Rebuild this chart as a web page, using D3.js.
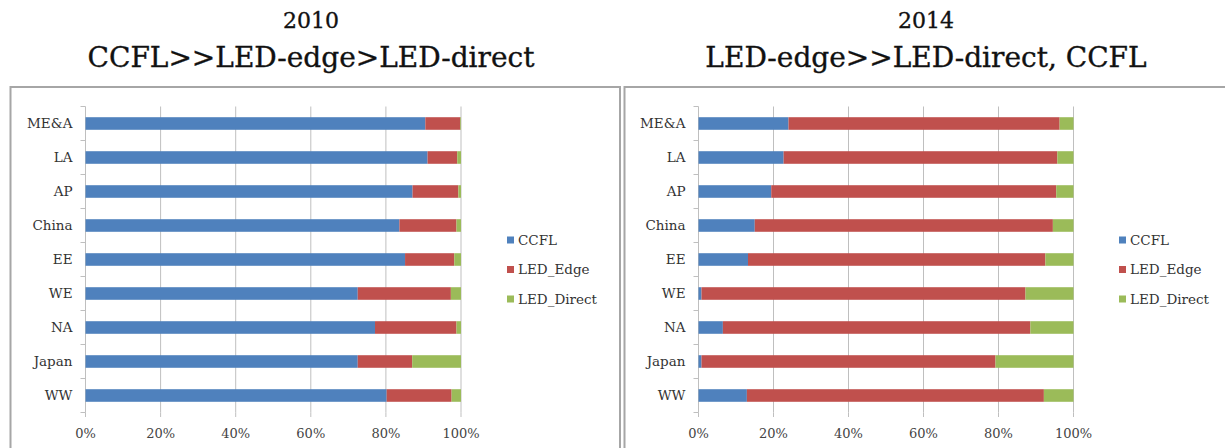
<!DOCTYPE html>
<html>
<head>
<meta charset="utf-8">
<script src="https://cdn.jsdelivr.net/npm/d3@7/dist/d3.min.js"></script>
<style>
  body { margin: 0; background: #fff; }
  svg { display: block; }
  svg text { font-family: "DejaVu Serif", serif; }
  .title { fill: #111; stroke: #111; stroke-width: 0.35px; text-anchor: middle; }
  .cat text { font-size: 13.5px; fill: #333; }
  .tick-x text { font-size: 13px; fill: #444; }
  .legend text { font-size: 13.5px; fill: #333; }
</style>
</head>
<body>
<div id="chart"></div>
<script>
const regions = [`ME&A`, `LA`, `AP`, `China`, `EE`, `WE`, `NA`, `Japan`, `WW`];
const seriesNames = [`CCFL`, `LED_Edge`, `LED_Direct`];
const seriesColors = [`#4f81bd`, `#c0504d`, `#9bbb59`];
const xTicks = [0, 20, 40, 60, 80, 100];

// shares in %, same order as regions
const ccfl2010   = [90.5, 91.1, 87.1, 83.6, 85.1, 72.5, 77.1, 72.5, 80.2];
const edge2010   = [9.3, 7.9, 12.2, 15.2, 13.1, 24.8, 21.7, 14.5, 17.3];
const direct2010 = [0.2, 1.0, 0.7, 1.2, 1.8, 2.7, 1.2, 13.0, 2.5];

const ccfl2014   = [24.0, 22.7, 19.4, 15.0, 13.2, 0.8, 6.5, 0.8, 12.9];
const edge2014   = [72.3, 73.0, 76.0, 79.5, 79.3, 86.4, 82.0, 78.4, 79.2];
const direct2014 = [3.7, 4.3, 4.6, 5.5, 7.5, 12.8, 11.5, 20.8, 7.9];

const titles2010 = [`2010`, `CCFL>>LED-edge>LED-direct`];
const titles2014 = [`2014`, `LED-edge>>LED-direct, CCFL`];

const W = 1225, H = 448;
const svg = d3.select(`#chart`).append(`svg`)
  .attr(`width`, W)
  .attr(`height`, H);

const panels = [
  { titles: titles2010, series: [ccfl2010, edge2010, direct2010],
    frameX: 10.5, frameW: 609.5, titleX: 311, x0: 85.5, x1: 461, legX: 507 },
  { titles: titles2014, series: [ccfl2014, edge2014, direct2014],
    frameX: 624.5, frameW: 610, titleX: 926, x0: 698.5, x1: 1073.5, legX: 1119 }
];

panels.forEach((p) => {
  const g = svg.append(`g`);

  // frame
  g.append(`rect`)
    .attr(`x`, p.frameX).attr(`y`, 87)
    .attr(`width`, p.frameW).attr(`height`, 400)
    .attr(`fill`, `none`)
    .attr(`stroke`, `#a6a6a6`)
    .attr(`stroke-width`, 2);

  // titles
  g.append(`text`).attr(`class`, `title`)
    .attr(`x`, p.titleX).attr(`y`, 28)
    .style(`font-size`, `22px`)
    .text(p.titles[0]);
  g.append(`text`).attr(`class`, `title`)
    .attr(`x`, p.titleX).attr(`y`, 67)
    .style(`font-size`, `28px`)
    .text(p.titles[1]);

  const x = d3.scaleLinear().domain([0, 100]).range([p.x0, p.x1]);
  const y = d3.scaleBand().domain(regions).range([106.5, 412.5]).paddingInner(0.63).paddingOuter(0.315);
  const yBand = d3.scaleBand().domain(regions).range([106.5, 412.5]);

  // vertical gridlines
  g.append(`g`).selectAll(`line`)
    .data(xTicks.slice(1))
    .join(`line`)
      .attr(`x1`, (d) => x(d)).attr(`x2`, (d) => x(d))
      .attr(`y1`, 106.5).attr(`y2`, 412.5)
      .attr(`stroke`, `#bfbfbf`)
      .attr(`stroke-width`, 1);

  // x axis labels + small ticks
  const xa = g.append(`g`).attr(`class`, `tick-x`);
  xa.selectAll(`line`)
    .data(xTicks)
    .join(`line`)
      .attr(`x1`, (d) => x(d)).attr(`x2`, (d) => x(d))
      .attr(`y1`, 412.5).attr(`y2`, 417)
      .attr(`stroke`, `#bfbfbf`);
  xa.selectAll(`text`)
    .data(xTicks)
    .join(`text`)
      .attr(`x`, (d) => x(d))
      .attr(`y`, 438)
      .attr(`text-anchor`, `middle`)
      .text((d) => `${d}%`);

  // y axis line and ticks
  const ya = g.append(`g`).attr(`class`, `cat`);
  ya.append(`line`)
    .attr(`x1`, p.x0).attr(`x2`, p.x0)
    .attr(`y1`, 106.5).attr(`y2`, 412.5)
    .attr(`stroke`, `#bfbfbf`);
  ya.selectAll(`line.tk`)
    .data(regions.concat([null]))
    .join(`line`)
      .attr(`class`, `tk`)
      .attr(`x1`, p.x0 - 5).attr(`x2`, p.x0)
      .attr(`y1`, (d, i) => 106.5 + i * yBand.step())
      .attr(`y2`, (d, i) => 106.5 + i * yBand.step())
      .attr(`stroke`, `#bfbfbf`);
  ya.selectAll(`text`)
    .data(regions)
    .join(`text`)
      .attr(`x`, p.x0 - 13)
      .attr(`y`, (d) => y(d) + y.bandwidth() / 2)
      .attr(`dy`, `0.35em`)
      .attr(`text-anchor`, `end`)
      .text((d) => d);

  // stacked bars
  const rows = regions.map((r, i) => {
    const o = { region: r };
    seriesNames.forEach((s, k) => { o[s] = p.series[k][i]; });
    return o;
  });
  const stacked = d3.stack().keys(seriesNames)(rows);

  g.append(`g`).selectAll(`g`)
    .data(stacked)
    .join(`g`)
      .attr(`fill`, (d, k) => seriesColors[k])
    .selectAll(`rect`)
    .data((d) => d)
    .join(`rect`)
      .attr(`x`, (d) => x(d[0]))
      .attr(`width`, (d) => Math.max(0, x(Math.min(100, d[1])) - x(d[0])))
      .attr(`y`, (d) => y(d.data.region))
      .attr(`height`, y.bandwidth());

  // legend
  const leg = g.append(`g`).attr(`class`, `legend`);
  const legY = d3.scalePoint().domain(seriesNames).range([240, 299]);
  leg.selectAll(`rect`)
    .data(seriesNames)
    .join(`rect`)
      .attr(`x`, p.legX)
      .attr(`y`, (d) => legY(d) - 3.5)
      .attr(`width`, 7).attr(`height`, 7)
      .attr(`fill`, (d, k) => seriesColors[k]);
  leg.selectAll(`text`)
    .data(seriesNames)
    .join(`text`)
      .attr(`x`, p.legX + 11)
      .attr(`y`, (d) => legY(d))
      .attr(`dy`, `0.35em`)
      .text((d) => d);
});
</script>
</body>
</html>
